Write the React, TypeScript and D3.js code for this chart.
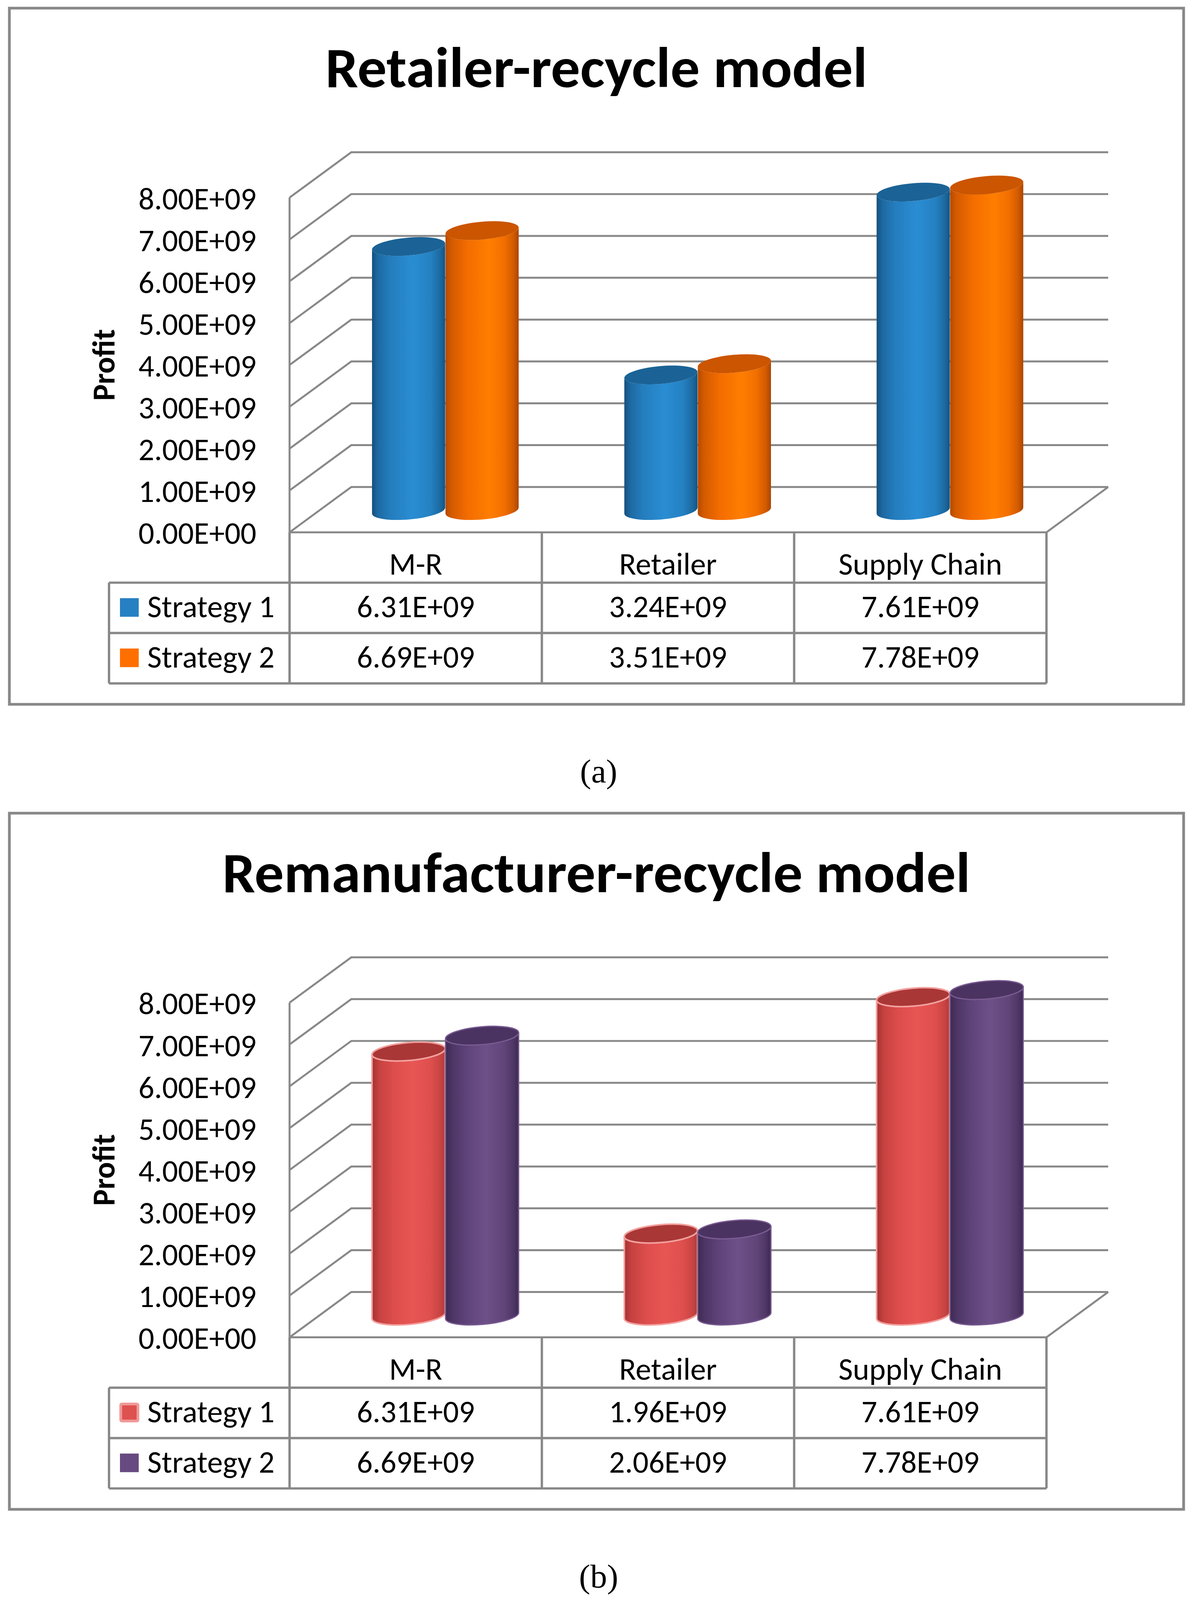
import React from "react";
import * as d3 from "d3";

// ---------- data ----------
const categories = ["M-R", "Retailer", "Supply Chain"];
const seriesNames = ["Strategy 1", "Strategy 2"];
const retailerStrategy1 = [6.31e9, 3.24e9, 7.61e9];
const retailerStrategy2 = [6.69e9, 3.51e9, 7.78e9];
const remanStrategy1 = [6.31e9, 1.96e9, 7.61e9];
const remanStrategy2 = [6.69e9, 2.06e9, 7.78e9];
const yTicks = [0, 1e9, 2e9, 3e9, 4e9, 5e9, 6e9, 7e9, 8e9];
const panelTitles = ["Retailer-recycle model", "Remanufacturer-recycle model"];
const captions = ["(a)", "(b)"];

// ---------- layout ----------
const W = 3053;
const H = 4130;
const PANEL_DY = 2078;
const FRONT_L = 741;
const FRONT_R = 2678;
const FLOOR_Y = 1374;
const TOP_Y = 510;
const DEPTH_X = 158;
const DEPTH_Y = -117;
const BAR_DEPTH = 0.48;
const RX = 94;
const RY = 23;
const TILT = -5;
const TABLE_LEFT = 279;
const ROW_H = 130;
const GRID = "#888888";
const SX = 1;
const FS = 80;
const FONT = "Carlito, Calibri, Lato, 'Open Sans', sans-serif";

const fmtE = (v: number) => {
  const [m, e] = v.toExponential(2).toUpperCase().split("E");
  const sign = e[0] === "-" ? "-" : "+";
  const digits = e.replace(/[+-]/, "").padStart(2, "0");
  return `${m}E${sign}${digits}`;
};

type Style = {
  id: string;
  stops: [number, string][];
  top: string;
  stroke?: string;
  strokeW?: number;
  legend: string;
  legendStroke?: string;
};

const stylesA: Style[] = [
  {
    id: "gA1",
    stops: [
      [0, "#164f7c"],
      [0.08, "#1d69a2"],
      [0.25, "#247dbd"],
      [0.55, "#2a8dd3"],
      [0.8, "#2481c2"],
      [0.93, "#1c6aa1"],
      [1, "#145482"],
    ],
    top: "#1b6396",
    legend: "#2680c2",
  },
  {
    id: "gA2",
    stops: [
      [0, "#b44a00"],
      [0.08, "#d35a00"],
      [0.3, "#f36c00"],
      [0.6, "#ff7e00"],
      [0.8, "#f26f00"],
      [0.93, "#d25a00"],
      [1, "#a84600"],
    ],
    top: "#cb5500",
    legend: "#ff6f00",
  },
];

const stylesB: Style[] = [
  {
    id: "gB1",
    stops: [
      [0, "#a53230"],
      [0.1, "#c64241"],
      [0.3, "#dd4d4b"],
      [0.55, "#e85654"],
      [0.8, "#de4f4d"],
      [0.93, "#c84443"],
      [1, "#b23a39"],
    ],
    top: "#a93736",
    stroke: "#f2a09e",
    strokeW: 4,
    legend: "#dd5150",
    legendStroke: "#f09a98",
  },
  {
    id: "gB2",
    stops: [
      [0, "#3e2a52"],
      [0.1, "#4e3666"],
      [0.3, "#5f447a"],
      [0.55, "#6d5087"],
      [0.8, "#614579"],
      [0.93, "#4e3766"],
      [1, "#3c2950"],
    ],
    top: "#4b3361",
    stroke: "#7a5c93",
    strokeW: 3,
    legend: "#674a7f",
  },
];

function Cylinder({
  cx,
  yTop,
  yBot,
  st,
}: {
  cx: number;
  yTop: number;
  yBot: number;
  st: Style;
}) {
  const t = (TILT * Math.PI) / 180;
  const ex = RX * Math.cos(t);
  const ey = RX * Math.sin(t);
  const body =
    `M${cx + ex},${yTop + ey} L${cx + ex},${yBot + ey} ` +
    `A${RX},${RY} ${TILT} 0 1 ${cx - ex},${yBot - ey} ` +
    `L${cx - ex},${yTop - ey} ` +
    `A${RX},${RY} ${TILT} 0 0 ${cx + ex},${yTop + ey} Z`;
  return (
    <g>
      <path
        d={body}
        fill={`url(#${st.id})`}
        stroke={st.stroke || "none"}
        strokeWidth={st.strokeW || 0}
      />
      <ellipse
        cx={cx}
        cy={yTop}
        rx={RX}
        ry={RY}
        transform={`rotate(${TILT} ${cx} ${yTop})`}
        fill={st.top}
        stroke={st.stroke || "none"}
        strokeWidth={st.strokeW || 0}
      />
    </g>
  );
}

function SText({
  x,
  y,
  anchor = "middle",
  size = FS,
  weight = 400,
  rotate = 0,
  children,
}: {
  x: number;
  y: number;
  anchor?: string;
  size?: number;
  weight?: number;
  rotate?: number;
  children: React.ReactNode;
}) {
  return (
    <text
      transform={`translate(${x},${y}) rotate(${rotate}) scale(${SX},1)`}
      textAnchor={anchor as any}
      fontFamily={FONT}
      fontSize={size}
      fontWeight={weight}
      fill="#000"
    >
      {children}
    </text>
  );
}

function Panel({
  dy,
  title,
  titleLen,
  s1,
  s2,
  styles,
  caption,
}: {
  dy: number;
  title: string;
  titleLen: number;
  s1: number[];
  s2: number[];
  styles: Style[];
  caption: string;
}) {
  const y = d3.scaleLinear().domain([0, 8e9]).range([FLOOR_Y, TOP_Y]);
  const x = d3.scaleBand<string>().domain(categories).range([FRONT_L, FRONT_R]);
  const xs = d3
    .scaleBand<string>()
    .domain(seriesNames)
    .range([0, x.bandwidth()])
    .paddingOuter(0.717);
  const series = [s1, s2];
  const tableRows = [FLOOR_Y, FLOOR_Y + ROW_H, FLOOR_Y + 2 * ROW_H, FLOOR_Y + 3 * ROW_H];
  const colEdges = [...categories.map((c) => x(c) as number), FRONT_R];
  const floorBack = FLOOR_Y + DEPTH_Y * BAR_DEPTH;

  return (
    <g transform={`translate(0,${dy})`}>
      <rect x={24} y={21} width={3005} height={1797} fill="#fff" stroke={GRID} strokeWidth={7} />
      {/* title */}
      <text
        x={1526}
        y={225}
        textAnchor="middle"
        fontFamily={FONT}
        fontSize={148}
        fontWeight={700}
        textLength={titleLen}
        lengthAdjust="spacingAndGlyphs"
      >
        {title}
      </text>

      {/* walls / gridlines */}
      {yTicks.map((v) => (
        <path
          key={v}
          d={`M${FRONT_L},${y(v)} L${FRONT_L + DEPTH_X},${y(v) + DEPTH_Y} L${FRONT_R + DEPTH_X},${y(v) + DEPTH_Y}`}
          fill="none"
          stroke={GRID}
          strokeWidth={5}
        />
      ))}
      <path
        d={`M${FRONT_L},${FLOOR_Y} L${FRONT_R},${FLOOR_Y} L${FRONT_R + DEPTH_X},${FLOOR_Y + DEPTH_Y}`}
        fill="none"
        stroke={GRID}
        strokeWidth={5}
      />
      <line x1={FRONT_L} x2={FRONT_L} y1={y(8e9)} y2={FLOOR_Y} stroke={GRID} strokeWidth={5} />

      {/* tick labels */}
      {yTicks.map((v) => (
        <SText key={v} x={656} y={y(v) + 30} anchor="end">
          {fmtE(v)}
        </SText>
      ))}
      <SText x={293} y={942} anchor="middle" weight={700} size={80} rotate={-90}>
        Profit
      </SText>

      {/* cylinders */}
      {categories.map((c, ci) =>
        seriesNames.map((s, si) => {
          const cxFront = (x(c) as number) + (xs(s) as number) + xs.bandwidth() / 2;
          const cx = cxFront + DEPTH_X * BAR_DEPTH;
          const yTop = y(series[si][ci]) + DEPTH_Y * BAR_DEPTH;
          return <Cylinder key={c + s} cx={cx} yTop={yTop} yBot={floorBack} st={styles[si]} />;
        })
      )}

      {/* data table */}
      {colEdges.map((cx, i) => (
        <line key={i} x1={cx} x2={cx} y1={FLOOR_Y} y2={tableRows[3]} stroke={GRID} strokeWidth={6} />
      ))}
      {tableRows.slice(1).map((ry, i) => (
        <line key={i} x1={TABLE_LEFT} x2={FRONT_R} y1={ry} y2={ry} stroke={GRID} strokeWidth={6} />
      ))}
      <line x1={TABLE_LEFT} x2={TABLE_LEFT} y1={tableRows[1]} y2={tableRows[3]} stroke={GRID} strokeWidth={6} />

      {categories.map((c) => (
        <SText key={c} x={(x(c) as number) + x.bandwidth() / 2} y={FLOOR_Y + 109}>
          {c}
        </SText>
      ))}
      {seriesNames.map((s, si) => {
        const top = tableRows[si + 1];
        const st = styles[si];
        return (
          <g key={s}>
            <rect
              x={st.legendStroke ? 309 : 307}
              y={top + (st.legendStroke ? 42 : 40)}
              width={st.legendStroke ? 44 : 48}
              height={st.legendStroke ? 44 : 48}
              rx={st.legendStroke ? 3 : 0}
              fill={st.legend}
              stroke={st.legendStroke || "none"}
              strokeWidth={st.legendStroke ? 7 : 0}
            />
            <SText x={377} y={top + 89} anchor="start">
              {s}
            </SText>
            {categories.map((c, ci) => (
              <SText key={c} x={(x(c) as number) + x.bandwidth() / 2} y={top + 89}>
                {fmtE(series[si][ci])}
              </SText>
            ))}
          </g>
        );
      })}

      {/* caption */}
      <text
        x={1532}
        y={2020}
        textAnchor="middle"
        fontFamily="'Liberation Serif', 'Times New Roman', serif"
        fontSize={86}
        fill="#000"
      >
        {caption}
      </text>
    </g>
  );
}

export default function App() {
  const allStyles = [...stylesA, ...stylesB];
  return (
    <>
      <style>{"html,body{margin:0;padding:0;overflow:hidden;background:#fff}"}</style>
      <svg
        viewBox={`0 0 ${W} ${H}`}
        preserveAspectRatio="none"
        style={{
          position: "fixed",
          left: 0,
          top: 0,
          width: "100vw",
          height: "100vh",
          background: "#fff",
          display: "block",
        }}
      >
        <defs>
          {allStyles.map((st) => (
            <linearGradient key={st.id} id={st.id} x1="0" x2="1" y1="0" y2="0">
              {st.stops.map(([o, c], i) => (
                <stop key={i} offset={o} stopColor={c} />
              ))}
            </linearGradient>
          ))}
        </defs>
        <rect x={0} y={0} width={W} height={H} fill="#fff" />
        <Panel
          dy={0}
          title={panelTitles[0]}
          titleLen={1387}
          s1={retailerStrategy1}
          s2={retailerStrategy2}
          styles={stylesA}
          caption={captions[0]}
        />
        <Panel
          dy={PANEL_DY}
          title={panelTitles[1]}
          titleLen={1914}
          s1={remanStrategy1}
          s2={remanStrategy2}
          styles={stylesB}
          caption={captions[1]}
        />
      </svg>
    </>
  );
}
